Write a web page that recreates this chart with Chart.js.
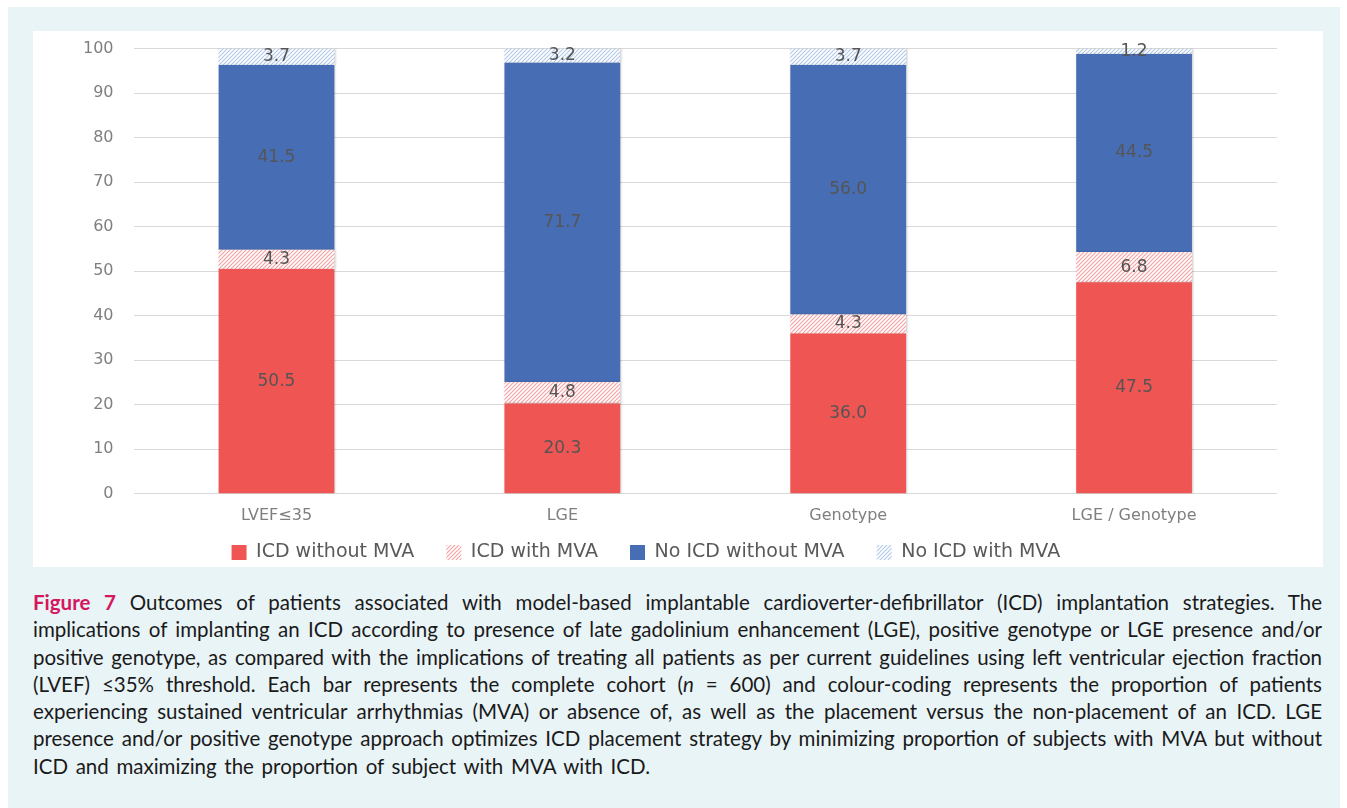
<!DOCTYPE html>
<html>
<head>
<meta charset="utf-8">
<script src="https://cdn.jsdelivr.net/npm/chart.js@4.4.0/dist/chart.umd.min.js"></script>
<style>
  html, body { margin: 0; padding: 0; background: #fff; }
  #frame { position: absolute; left: 8px; top: 7px; width: 1332px; height: 801px; background: #e9f4f7; }
  #panel { position: absolute; left: 33px; top: 31px; width: 1290px; height: 536px; background: #fff; }
  #outcomeChart { position: absolute; left: 0; top: -12px; }
  #caption {
    position: absolute; left: 33px; top: 589px; width: 1289px;
    font-family: Lato, "Open Sans", sans-serif; font-size: 20.5px; line-height: 27.3px;
    color: #1a1a1a;
  }
  #caption div { white-space: nowrap; text-align: justify; text-align-last: justify; width: 1289px; }
  #caption div.last { width: 617px; }
  #caption b { color: #d5175e; font-weight: bold; }
</style>
</head>
<body>
<div id="frame"></div>
<div id="panel"><canvas id="outcomeChart" width="1290" height="548"></canvas></div>
<div id="caption">
<div><b>Figure 7</b> Outcomes of patients associated with model-based implantable cardioverter-defibrillator (ICD) implantation strategies. The</div>
<div>implications of implanting an ICD according to presence of late gadolinium enhancement (LGE), positive genotype or LGE presence and/or</div>
<div>positive genotype, as compared with the implications of treating all patients as per current guidelines using left ventricular ejection fraction</div>
<div>(LVEF) &le;35% threshold. Each bar represents the complete cohort (<i>n</i> = 600) and colour-coding represents the proportion of patients</div>
<div>experiencing sustained ventricular arrhythmias (MVA) or absence of, as well as the placement versus the non-placement of an ICD. LGE</div>
<div>presence and/or positive genotype approach optimizes ICD placement strategy by minimizing proportion of subjects with MVA but without</div>
<div class="last">ICD and maximizing the proportion of subject with MVA with ICD.</div>
</div>
<script>
const strategies = ["LVEF\u226435", "LGE", "Genotype", "LGE / Genotype"];
const icdWithoutMva = [50.5, 20.3, 36.0, 47.5];
const icdWithMva = [4.3, 4.8, 4.3, 6.8];
const noIcdWithoutMva = [41.5, 71.7, 56.0, 44.5];
const noIcdWithMva = [3.7, 3.2, 3.7, 1.2];

const chartFont = "'DejaVu Sans', sans-serif";

// squeeze caption lines that are too long for their box
document.querySelectorAll("#caption div").forEach(line => {
	const target = line.clientWidth;
	line.style.width = "max-content";
	const natural = line.offsetWidth;
	line.style.width = "";
	if (natural > target - 6) {
		line.style.letterSpacing = ((target - 6 - natural) / line.textContent.length) + "px";
	}
});

function hatch(color) {
	const c = document.createElement("canvas");
	c.width = 4; c.height = 4;
	const g = c.getContext("2d");
	g.fillStyle = "#fff";
	g.fillRect(0, 0, 4, 4);
	g.strokeStyle = color;
	g.lineWidth = 1.2;
	g.beginPath();
	g.moveTo(0, 4); g.lineTo(4, 0);
	g.moveTo(-1, 1); g.lineTo(1, -1);
	g.moveTo(3, 5); g.lineTo(5, 3);
	g.stroke();
	return g.createPattern(c, "repeat");
}

// soft shadow on the bars, then value labels in the middle of each segment
const segmentLabels = {
	id: "segmentLabels",
	beforeDatasetsDraw(chart) {
		const ctx = chart.ctx;
		ctx.save();
		ctx.shadowColor = "rgba(0,0,0,0.22)";
		ctx.shadowBlur = 2;
		ctx.shadowOffsetX = 1;
	},
	afterDatasetsDraw(chart) {
		const ctx = chart.ctx;
		ctx.restore();
		ctx.save();
		ctx.font = "17px " + chartFont;
		ctx.fillStyle = "#555555";
		ctx.textAlign = "center";
		ctx.textBaseline = "middle";
		chart.data.datasets.forEach((ds, i) => {
			chart.getDatasetMeta(i).data.forEach((bar, j) => {
				const y = (bar.y + bar.base) / 2;
				ctx.fillText(ds.data[j].toFixed(1), bar.x, y);
			});
		});
		ctx.restore();
	}
};

const ctx = document.getElementById("outcomeChart").getContext("2d");
new Chart(ctx, {
	type: "bar",
	data: {
		labels: strategies,
		datasets: [
			{ label: "ICD without MVA", data: icdWithoutMva, backgroundColor: "#ef5552" },
			{ label: "ICD with MVA", data: icdWithMva, backgroundColor: hatch("#f4a3a3") },
			{ label: "No ICD without MVA", data: noIcdWithoutMva, backgroundColor: "#476db4" },
			{ label: "No ICD with MVA", data: noIcdWithMva, backgroundColor: hatch("#b3cbe9") }
		]
	},
	options: {
		responsive: false,
		animation: false,
		categoryPercentage: 0.81,
		barPercentage: 0.5,
		layout: { padding: { left: 30, right: 46, top: 0, bottom: -5 } },
		scales: {
			x: {
				stacked: true,
				grid: { display: false },
				border: { display: false },
				ticks: { color: "#7f7f7f", font: { family: chartFont, size: 16 }, padding: 4 }
			},
			y: {
				stacked: true,
				min: 0, max: 100,
				ticks: { stepSize: 10, color: "#7f7f7f", font: { family: chartFont, size: 16 }, padding: 20 },
				grid: { color: "#d9d9d9", drawTicks: false },
				border: { display: false }
			}
		},
		plugins: {
			legend: {
				position: "bottom",
				labels: {
					boxWidth: 15, boxHeight: 15, padding: 14,
					color: "#595959",
					font: { family: chartFont, size: 19 },
					generateLabels(chart) {
						const items = Chart.defaults.plugins.legend.labels.generateLabels(chart);
						items.forEach((it, i) => {
							it.text = it.text + (i === items.length - 1 ? "        " : "   ");
						});
						return items;
					}
				}
			},
			tooltip: { enabled: false }
		}
	},
	plugins: [segmentLabels]
});
</script>
</body>
</html>
